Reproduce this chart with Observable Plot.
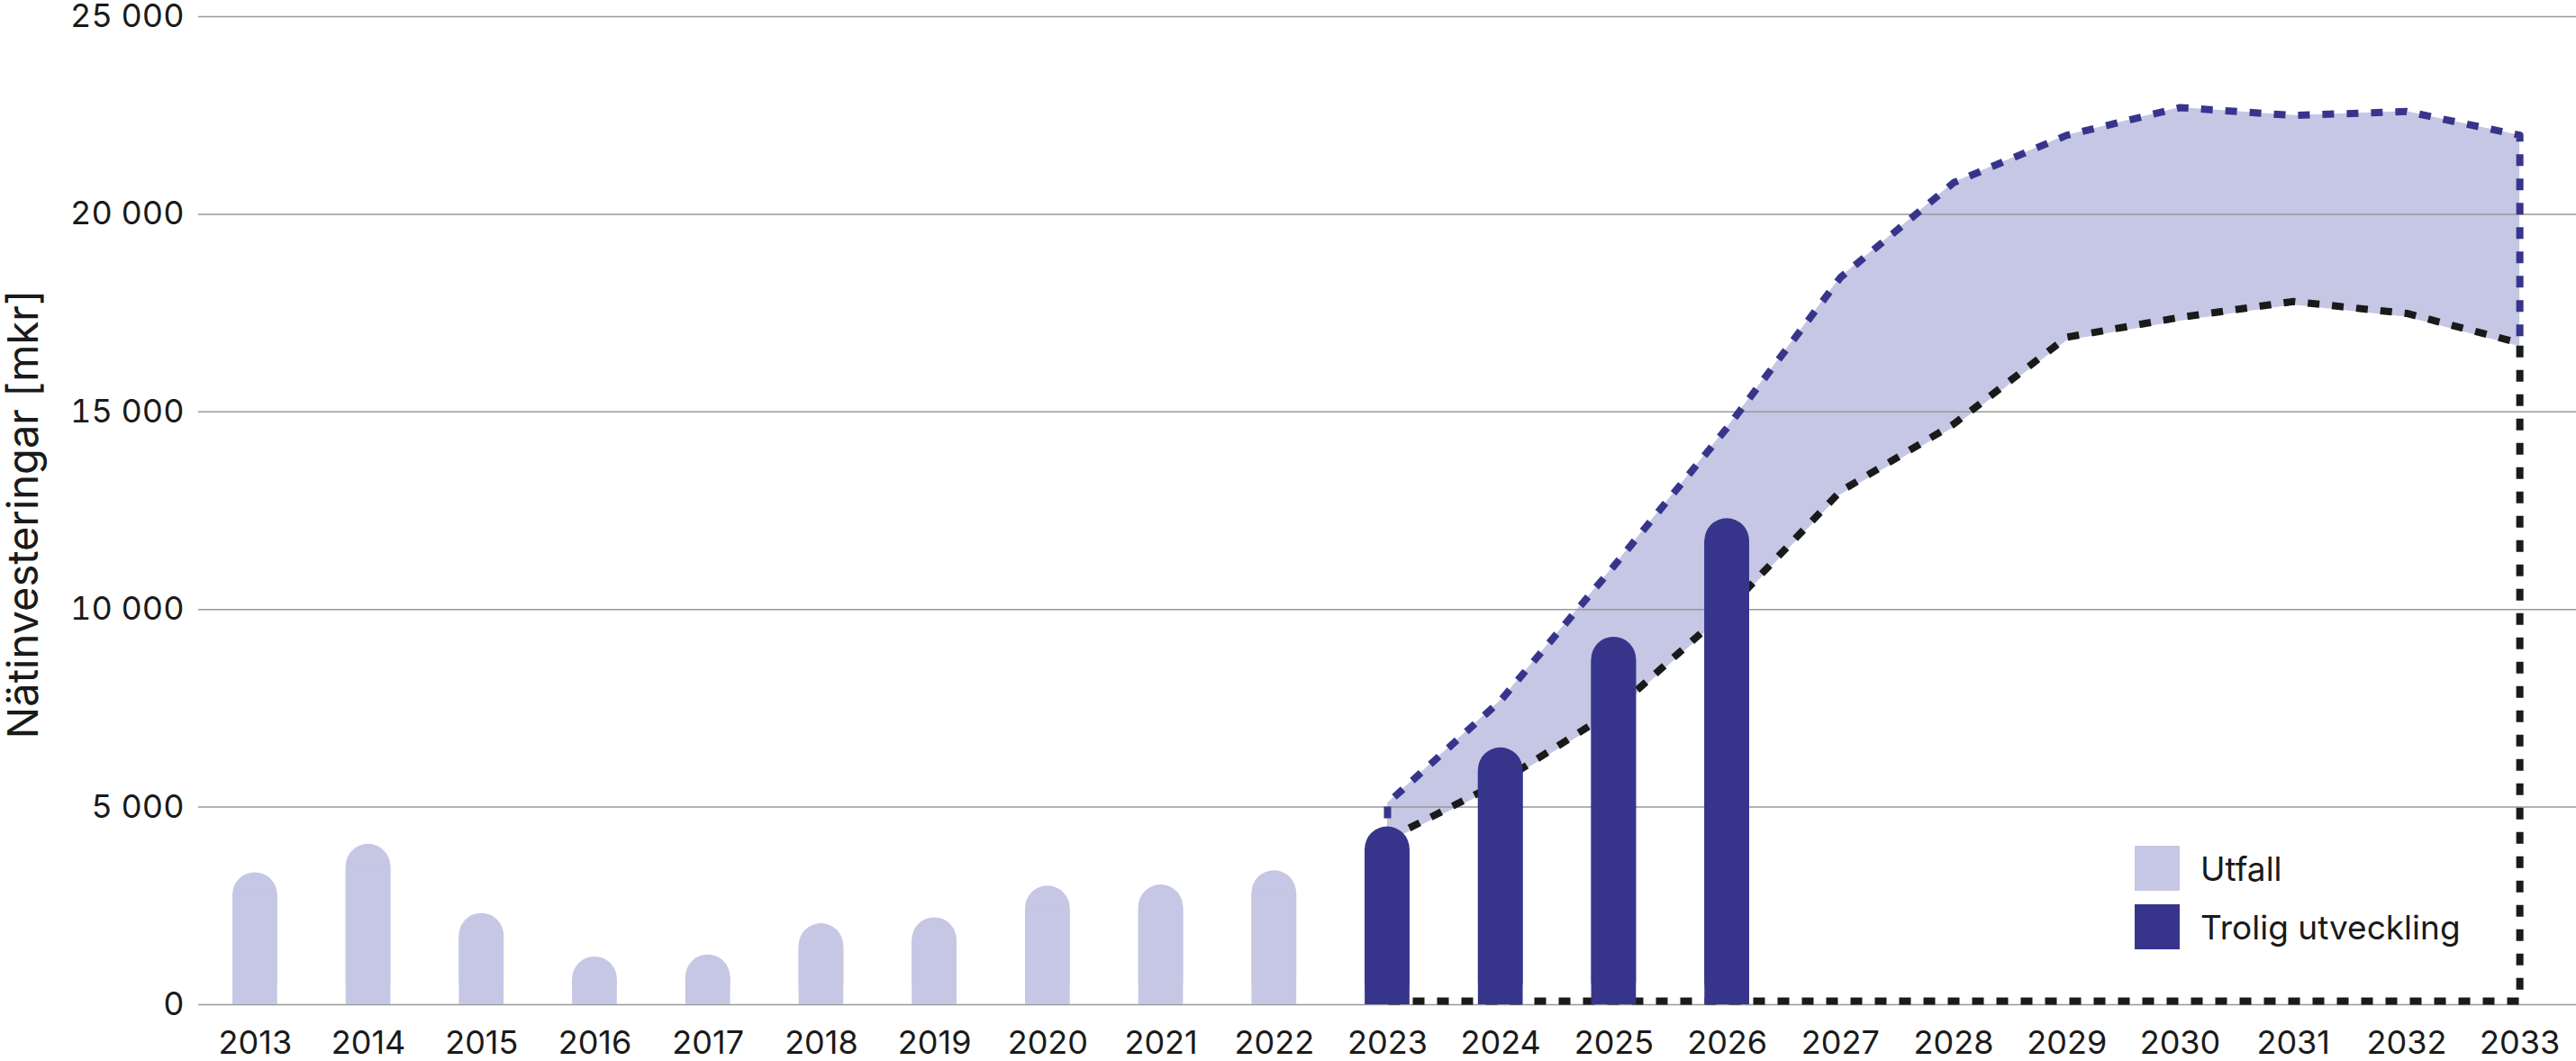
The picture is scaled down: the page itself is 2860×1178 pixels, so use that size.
<!DOCTYPE html>
<html>
<head>
<meta charset="utf-8">
<script src="https://cdn.jsdelivr.net/npm/d3@7"></script>
<script src="https://cdn.jsdelivr.net/npm/@observablehq/plot@0.6"></script>
<style>
  html, body { margin: 0; padding: 0; background: #fff; }
  body { font-family: Inter, "Noto Sans", sans-serif; }
  #wrap { position: relative; width: 2860px; height: 1178px; }
  #legend { position: absolute; left: 2370px; top: 939px; font-family: Inter, sans-serif; font-size: 37px; color: #1a1a1a; }
  #legend .row { display: flex; align-items: center; height: 50px; margin-bottom: 15px; }
  #legend .sw { width: 50px; height: 50px; margin-right: 23px; }
</style>
</head>
<body>
<div id="wrap"></div>
<script>
// ---- data ----
const years = [2013,2014,2015,2016,2017,2018,2019,2020,2021,2022,2023,2024,2025,2026,2027,2028,2029,2030,2031,2032,2033];
const utfallYears = [2013,2014,2015,2016,2017,2018,2019,2020,2021,2022];
const utfallValues = [3340,4060,2310,1210,1260,2050,2200,3000,3030,3390];
const troligYears = [2023,2024,2025,2026];
const troligValues = [4500,6500,9300,12300];
const rangeYears = [2023,2024,2025,2026,2027,2028,2029,2030,2031,2032,2033];
const upperValues = [5100,7700,11100,14600,18400,20800,22000,22700,22500,22600,22000];
const lowerValues = [4100,5550,7350,9900,12900,14600,16800,17300,17700,17400,16650];
const yTicks = [0,5000,10000,15000,20000,25000];
const legendLabels = ["Utfall","Trolig utveckling"];
const yLabel = "Nätinvesteringar [mkr]";

const light = "#c5c7e4", dark = "#37358b", black = "#1a1a1a";

const utfall = utfallYears.map((year, i) => ({year, value: utfallValues[i]}));
const trolig = troligYears.map((year, i) => ({year, value: troligValues[i]}));
const band = rangeYears.map((year, i) => ({year, lo: lowerValues[i], hi: upperValues[i]}));
const first = band[0], last = band[band.length - 1];
// upper dashed outline: up the left side, along upper bound, down the right side
const upperPath = [{year: first.year, v: first.lo}, ...band.map(d => ({year: d.year, v: d.hi})), {year: last.year, v: last.lo}];
// lower dashed outline: along lower bound, down to zero, back along zero
const lowerPath = [...band.map(d => ({year: d.year, v: d.lo})), {year: last.year, v: 0}, {year: first.year, v: 0}];

const fmt = d => d3.format(",")(d).replace(/,/g, " ");

const inset = {insetLeft: 38, insetRight: 38};

function roundedBars(data, fill) {
  return [
    Plot.barY(data, {x: "year", y: "value", fill, rx: 25, ...inset}),
    Plot.barY(data, {x: "year", y: "value", fill, insetTop: 25, ...inset})
  ];
}

const chart = Plot.plot({
  width: 2860,
  height: 1178,
  marginLeft: 220,
  marginRight: 0,
  marginTop: 18,
  marginBottom: 63,
  style: {fontFamily: "Inter, sans-serif", color: black, background: "#fff"},
  x: {type: "band", domain: years, padding: 0, round: false},
  y: {domain: [0, 25000]},
  marks: [
    Plot.areaY(band, {x: "year", y1: "lo", y2: "hi", fill: light}),
    Plot.gridY(yTicks, {stroke: "#999", strokeOpacity: 1, strokeWidth: 1.5}),
    Plot.line(upperPath, {x: "year", y: "v", stroke: dark, strokeWidth: 8, strokeDasharray: "13,14", strokeLinecap: "butt"}),
    Plot.line(lowerPath, {x: "year", y: "v", stroke: black, strokeWidth: 8, strokeDasharray: "13,14", strokeLinecap: "butt", dy: -4}),
    ...roundedBars(utfall, light),
    ...roundedBars(trolig, dark),
    Plot.axisY(yTicks, {tickSize: 0, tickPadding: 16, tickFormat: fmt, fontSize: 36, label: null}),
    Plot.axisX({tickSize: 0, tickPadding: 29, tickFormat: "d", fontSize: 36, label: null}),
    Plot.text([yLabel], {text: d => d, frameAnchor: "left", textAnchor: "middle", lineAnchor: "middle", rotate: -90, dx: -194, dy: 4, fontSize: 47, fill: black})
  ]
});

const wrap = document.getElementById("wrap");
wrap.appendChild(chart);

const legend = document.createElement("div");
legend.id = "legend";
[light, dark].forEach((c, i) => {
  const row = document.createElement("div");
  row.className = "row";
  const sw = document.createElement("div");
  sw.className = "sw";
  sw.style.background = c;
  const t = document.createElement("span");
  t.textContent = legendLabels[i];
  row.appendChild(sw);
  row.appendChild(t);
  legend.appendChild(row);
});
wrap.appendChild(legend);
</script>
</body>
</html>
